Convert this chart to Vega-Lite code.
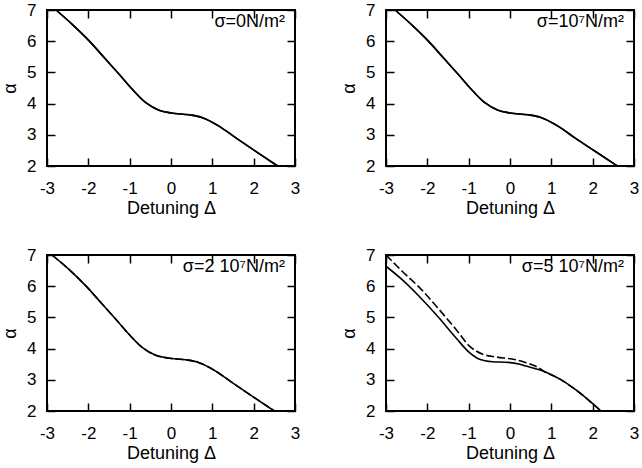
{
  "$schema": "https://vega.github.io/schema/vega-lite/v6.json",
  "padding": {"left": 0, "top": 0, "right": 0, "bottom": 0},
  "bounds": "flush",
  "columns": 2,
  "spacing": {"row": 89, "column": 91},
  "config": {
    "font": "Liberation Sans",
    "view": {"stroke": "#000000", "strokeWidth": 2},
    "axis": {"grid": false, "domain": false, "ticks": true, "tickSize": -8, "tickWidth": 1.5, "tickColor": "#000000", "labelColor": "#000000", "labelFontSize": 17, "labelFlush": false, "labelOverlap": false, "titleColor": "#000000", "titleFontSize": 18, "titleFontWeight": "normal"},
    "title": {"font": "Liberation Sans", "fontSize": 18, "fontWeight": "normal", "color": "#000000", "anchor": "end", "frame": "group", "offset": -30, "baseline": "alphabetic", "dx": -10}
  },
  "datasets": {
    "curves": [
      {"p": 1, "s": "solid", "x": -2.78, "y": 7.0},
      {"p": 1, "s": "solid", "x": -2.39, "y": 6.54},
      {"p": 1, "s": "solid", "x": -1.98, "y": 6.01},
      {"p": 1, "s": "solid", "x": -1.58, "y": 5.42},
      {"p": 1, "s": "solid", "x": -1.26, "y": 4.95},
      {"p": 1, "s": "solid", "x": -0.93, "y": 4.45},
      {"p": 1, "s": "solid", "x": -0.61, "y": 4.03},
      {"p": 1, "s": "solid", "x": -0.29, "y": 3.79},
      {"p": 1, "s": "solid", "x": 0.0, "y": 3.70},
      {"p": 1, "s": "solid", "x": 0.44, "y": 3.64},
      {"p": 1, "s": "solid", "x": 0.76, "y": 3.55},
      {"p": 1, "s": "solid", "x": 1.16, "y": 3.28},
      {"p": 1, "s": "solid", "x": 1.57, "y": 2.9},
      {"p": 1, "s": "solid", "x": 2.05, "y": 2.47},
      {"p": 1, "s": "solid", "x": 2.58, "y": 2.0},
      {"p": 2, "s": "solid", "x": -2.78, "y": 7.0},
      {"p": 2, "s": "solid", "x": -2.39, "y": 6.54},
      {"p": 2, "s": "solid", "x": -1.98, "y": 6.01},
      {"p": 2, "s": "solid", "x": -1.58, "y": 5.42},
      {"p": 2, "s": "solid", "x": -1.26, "y": 4.95},
      {"p": 2, "s": "solid", "x": -0.93, "y": 4.45},
      {"p": 2, "s": "solid", "x": -0.61, "y": 4.03},
      {"p": 2, "s": "solid", "x": -0.29, "y": 3.79},
      {"p": 2, "s": "solid", "x": 0.0, "y": 3.70},
      {"p": 2, "s": "solid", "x": 0.44, "y": 3.64},
      {"p": 2, "s": "solid", "x": 0.76, "y": 3.55},
      {"p": 2, "s": "solid", "x": 1.16, "y": 3.28},
      {"p": 2, "s": "solid", "x": 1.57, "y": 2.9},
      {"p": 2, "s": "solid", "x": 2.05, "y": 2.48},
      {"p": 2, "s": "solid", "x": 2.6, "y": 2.0},
      {"p": 3, "s": "solid", "x": -2.88, "y": 7.0},
      {"p": 3, "s": "solid", "x": -2.47, "y": 6.54},
      {"p": 3, "s": "solid", "x": -2.06, "y": 6.01},
      {"p": 3, "s": "solid", "x": -1.66, "y": 5.42},
      {"p": 3, "s": "solid", "x": -1.34, "y": 4.95},
      {"p": 3, "s": "solid", "x": -1.01, "y": 4.45},
      {"p": 3, "s": "solid", "x": -0.69, "y": 4.03},
      {"p": 3, "s": "solid", "x": -0.37, "y": 3.79},
      {"p": 3, "s": "solid", "x": -0.08, "y": 3.70},
      {"p": 3, "s": "solid", "x": 0.36, "y": 3.64},
      {"p": 3, "s": "solid", "x": 0.68, "y": 3.55},
      {"p": 3, "s": "solid", "x": 1.08, "y": 3.28},
      {"p": 3, "s": "solid", "x": 1.49, "y": 2.9},
      {"p": 3, "s": "solid", "x": 1.97, "y": 2.47},
      {"p": 3, "s": "solid", "x": 2.5, "y": 2.0},
      {"p": 3, "s": "dashed", "x": -2.88, "y": 7.0},
      {"p": 3, "s": "dashed", "x": -2.47, "y": 6.54},
      {"p": 3, "s": "dashed", "x": -2.06, "y": 6.01},
      {"p": 3, "s": "dashed", "x": -1.66, "y": 5.42},
      {"p": 3, "s": "dashed", "x": -1.34, "y": 4.95},
      {"p": 3, "s": "dashed", "x": -1.01, "y": 4.45},
      {"p": 3, "s": "dashed", "x": -0.69, "y": 4.03},
      {"p": 3, "s": "dashed", "x": -0.37, "y": 3.79},
      {"p": 3, "s": "dashed", "x": -0.08, "y": 3.70},
      {"p": 3, "s": "dashed", "x": 0.36, "y": 3.64},
      {"p": 3, "s": "dashed", "x": 0.68, "y": 3.55},
      {"p": 3, "s": "dashed", "x": 1.08, "y": 3.28},
      {"p": 3, "s": "dashed", "x": 1.49, "y": 2.9},
      {"p": 3, "s": "dashed", "x": 1.97, "y": 2.47},
      {"p": 3, "s": "dashed", "x": 2.5, "y": 2.0},
      {"p": 4, "s": "solid", "x": -3.0, "y": 6.64},
      {"p": 4, "s": "solid", "x": -2.61, "y": 6.21},
      {"p": 4, "s": "solid", "x": -2.2, "y": 5.68},
      {"p": 4, "s": "solid", "x": -1.72, "y": 4.99},
      {"p": 4, "s": "solid", "x": -1.31, "y": 4.35},
      {"p": 4, "s": "solid", "x": -0.98, "y": 3.87},
      {"p": 4, "s": "solid", "x": -0.74, "y": 3.66},
      {"p": 4, "s": "solid", "x": -0.42, "y": 3.58},
      {"p": 4, "s": "solid", "x": -0.05, "y": 3.56},
      {"p": 4, "s": "solid", "x": 0.24, "y": 3.50},
      {"p": 4, "s": "solid", "x": 0.39, "y": 3.44},
      {"p": 4, "s": "solid", "x": 0.8, "y": 3.28},
      {"p": 4, "s": "solid", "x": 1.21, "y": 3.02},
      {"p": 4, "s": "solid", "x": 1.62, "y": 2.65},
      {"p": 4, "s": "solid", "x": 2.2, "y": 2.0},
      {"p": 4, "s": "dashed", "x": -3.0, "y": 7.0},
      {"p": 4, "s": "dashed", "x": -2.61, "y": 6.48},
      {"p": 4, "s": "dashed", "x": -2.2, "y": 5.97},
      {"p": 4, "s": "dashed", "x": -1.72, "y": 5.26},
      {"p": 4, "s": "dashed", "x": -1.31, "y": 4.62},
      {"p": 4, "s": "dashed", "x": -0.98, "y": 4.08},
      {"p": 4, "s": "dashed", "x": -0.66, "y": 3.82},
      {"p": 4, "s": "dashed", "x": -0.33, "y": 3.73},
      {"p": 4, "s": "dashed", "x": 0.07, "y": 3.66},
      {"p": 4, "s": "dashed", "x": 0.39, "y": 3.55},
      {"p": 4, "s": "dashed", "x": 0.7, "y": 3.38},
      {"p": 4, "s": "dashed", "x": 0.8, "y": 3.29},
      {"p": 4, "s": "dashed", "x": 1.21, "y": 3.02},
      {"p": 4, "s": "dashed", "x": 1.62, "y": 2.65},
      {"p": 4, "s": "dashed", "x": 2.2, "y": 2.0}
    ]
  },
  "concat": [
    {
      "width": 248, "height": 156,
      "title": "σ=0N/m²",
      "layer": [
        {"data": {"name": "curves"}, "transform": [{"filter": "datum.p == 1 && datum.s == 'solid'"}],
         "mark": {"type": "line", "color": "#000000", "strokeWidth": 1.6, "interpolate": "monotone"},
         "encoding": {
           "x": {"field": "x", "type": "quantitative", "scale": {"domain": [-3, 3], "nice": false}, "axis": {"orient": "bottom", "values": [-3, -2, -1, 0, 1, 2, 3], "labelExpr": "'' + datum.value", "labelPadding": 22, "title": "Detuning Δ", "titlePadding": 3}},
           "y": {"field": "y", "type": "quantitative", "scale": {"domain": [2, 7], "nice": false, "zero": false}, "axis": {"orient": "left", "values": [2, 3, 4, 5, 6, 7], "labelPadding": 19, "title": "α", "titlePadding": 7}}}},
        {"data": {"name": "curves"}, "transform": [{"filter": "datum.p == 1 && datum.s == 'solid'"}],
         "mark": {"type": "line", "color": "#000000", "strokeWidth": 1.6, "interpolate": "monotone"},
         "encoding": {
           "x": {"field": "x", "type": "quantitative", "scale": {"domain": [-3, 3], "nice": false}, "axis": {"orient": "top", "values": [-3, -2, -1, 0, 1, 2, 3], "labels": false, "title": null}},
           "y": {"field": "y", "type": "quantitative", "scale": {"domain": [2, 7], "nice": false, "zero": false}, "axis": {"orient": "right", "values": [2, 3, 4, 5, 6, 7], "labels": false, "title": null}}}}
      ],
      "resolve": {"axis": {"x": "independent", "y": "independent"}}
    },
    {
      "width": 248, "height": 156,
      "title": "σ=10⁷N/m²",
      "layer": [
        {"data": {"name": "curves"}, "transform": [{"filter": "datum.p == 2 && datum.s == 'solid'"}],
         "mark": {"type": "line", "color": "#000000", "strokeWidth": 1.6, "interpolate": "monotone"},
         "encoding": {
           "x": {"field": "x", "type": "quantitative", "scale": {"domain": [-3, 3], "nice": false}, "axis": {"orient": "bottom", "values": [-3, -2, -1, 0, 1, 2, 3], "labelExpr": "'' + datum.value", "labelPadding": 22, "title": "Detuning Δ", "titlePadding": 3}},
           "y": {"field": "y", "type": "quantitative", "scale": {"domain": [2, 7], "nice": false, "zero": false}, "axis": {"orient": "left", "values": [2, 3, 4, 5, 6, 7], "labelPadding": 19, "title": "α", "titlePadding": 7}}}},
        {"data": {"name": "curves"}, "transform": [{"filter": "datum.p == 2 && datum.s == 'solid'"}],
         "mark": {"type": "line", "color": "#000000", "strokeWidth": 1.6, "interpolate": "monotone"},
         "encoding": {
           "x": {"field": "x", "type": "quantitative", "scale": {"domain": [-3, 3], "nice": false}, "axis": {"orient": "top", "values": [-3, -2, -1, 0, 1, 2, 3], "labels": false, "title": null}},
           "y": {"field": "y", "type": "quantitative", "scale": {"domain": [2, 7], "nice": false, "zero": false}, "axis": {"orient": "right", "values": [2, 3, 4, 5, 6, 7], "labels": false, "title": null}}}}
      ],
      "resolve": {"axis": {"x": "independent", "y": "independent"}}
    },
    {
      "width": 248, "height": 156,
      "title": "σ=2 10⁷N/m²",
      "layer": [
        {"data": {"name": "curves"}, "transform": [{"filter": "datum.p == 3 && datum.s == 'solid'"}],
         "mark": {"type": "line", "color": "#000000", "strokeWidth": 1.6, "interpolate": "monotone"},
         "encoding": {
           "x": {"field": "x", "type": "quantitative", "scale": {"domain": [-3, 3], "nice": false}, "axis": {"orient": "bottom", "values": [-3, -2, -1, 0, 1, 2, 3], "labelExpr": "'' + datum.value", "labelPadding": 22, "title": "Detuning Δ", "titlePadding": 3}},
           "y": {"field": "y", "type": "quantitative", "scale": {"domain": [2, 7], "nice": false, "zero": false}, "axis": {"orient": "left", "values": [2, 3, 4, 5, 6, 7], "labelPadding": 19, "title": "α", "titlePadding": 7}}}},
        {"data": {"name": "curves"}, "transform": [{"filter": "datum.p == 3 && datum.s == 'dashed'"}],
         "mark": {"type": "line", "color": "#000000", "strokeWidth": 1.6, "interpolate": "monotone", "strokeDash": [8, 3]},
         "encoding": {
           "x": {"field": "x", "type": "quantitative", "scale": {"domain": [-3, 3], "nice": false}, "axis": {"orient": "top", "values": [-3, -2, -1, 0, 1, 2, 3], "labels": false, "title": null}},
           "y": {"field": "y", "type": "quantitative", "scale": {"domain": [2, 7], "nice": false, "zero": false}, "axis": {"orient": "right", "values": [2, 3, 4, 5, 6, 7], "labels": false, "title": null}}}}
      ],
      "resolve": {"axis": {"x": "independent", "y": "independent"}}
    },
    {
      "width": 248, "height": 156,
      "title": "σ=5 10⁷N/m²",
      "layer": [
        {"data": {"name": "curves"}, "transform": [{"filter": "datum.p == 4 && datum.s == 'solid'"}],
         "mark": {"type": "line", "color": "#000000", "strokeWidth": 1.6, "interpolate": "monotone"},
         "encoding": {
           "x": {"field": "x", "type": "quantitative", "scale": {"domain": [-3, 3], "nice": false}, "axis": {"orient": "bottom", "values": [-3, -2, -1, 0, 1, 2, 3], "labelExpr": "'' + datum.value", "labelPadding": 22, "title": "Detuning Δ", "titlePadding": 3}},
           "y": {"field": "y", "type": "quantitative", "scale": {"domain": [2, 7], "nice": false, "zero": false}, "axis": {"orient": "left", "values": [2, 3, 4, 5, 6, 7], "labelPadding": 19, "title": "α", "titlePadding": 7}}}},
        {"data": {"name": "curves"}, "transform": [{"filter": "datum.p == 4 && datum.s == 'dashed'"}],
         "mark": {"type": "line", "color": "#000000", "strokeWidth": 1.6, "interpolate": "monotone", "strokeDash": [8, 3]},
         "encoding": {
           "x": {"field": "x", "type": "quantitative", "scale": {"domain": [-3, 3], "nice": false}, "axis": {"orient": "top", "values": [-3, -2, -1, 0, 1, 2, 3], "labels": false, "title": null}},
           "y": {"field": "y", "type": "quantitative", "scale": {"domain": [2, 7], "nice": false, "zero": false}, "axis": {"orient": "right", "values": [2, 3, 4, 5, 6, 7], "labels": false, "title": null}}}}
      ],
      "resolve": {"axis": {"x": "independent", "y": "independent"}}
    }
  ]
}
